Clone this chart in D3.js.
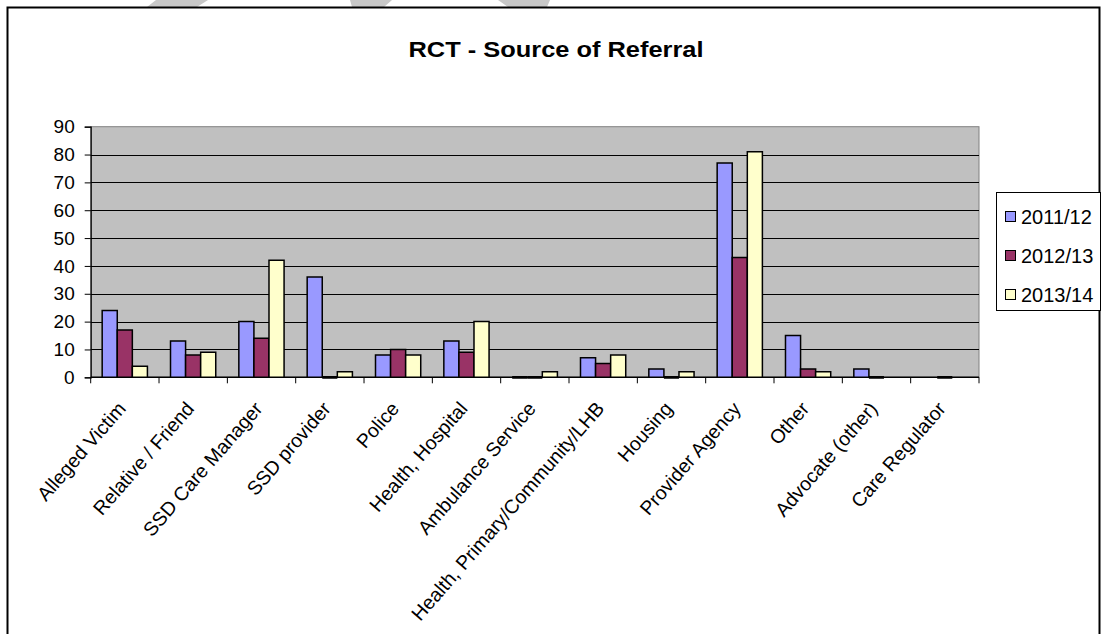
<!DOCTYPE html>
<html>
<head>
<meta charset="utf-8">
<script src="https://cdn.jsdelivr.net/npm/d3@7"></script>
<style>
  html, body { margin: 0; padding: 0; background: #ffffff; }
  svg { display: block; font-family: "Liberation Sans", Arial, sans-serif; }
</style>
</head>
<body>
<svg id="chart" width="1104" height="634"></svg>
<script>
// ---- data ----
const categories = [
  "Alleged Victim", "Relative / Friend", "SSD Care Manager", "SSD provider",
  "Police", "Health, Hospital", "Ambulance Service", "Health, Primary/Community/LHB",
  "Housing", "Provider Agency", "Other", "Advocate (other)", "Care Regulator"
];
const seriesNames = ["2011/12", "2012/13", "2013/14"];
const values2011 = [24, 13, 20, 36, 8, 13, 0, 7, 3, 77, 15, 3, null];
const values2012 = [17, 8, 14, 0, 10, 9, 0, 5, 0, 43, 3, 0, 0];
const values2013 = [4, 9, 42, 2, 8, 20, 2, 8, 2, 81, 2, null, null];
const seriesColors = ["#9999FF", "#993366", "#FFFFCC"];
const yTicks = [0, 10, 20, 30, 40, 50, 60, 70, 80, 90];
const titleText = "RCT - Source of Referral";

// ---- layout ----
const svg = d3.select("#chart");
const plot = { left: 90.7, right: 979, top: 126.7, bottom: 377.3 };
const allSeries = [values2011, values2012, values2013];

// watermark fragments above the chart frame
const wm = [
  [[156,0],[208,0],[197,7],[147,7]],
  [[350,0],[392,0],[384,7],[352,7]],
  [[498,0],[550,0],[547,7],[508,7]]
];
svg.selectAll("polygon.wm").data(wm).enter().append("polygon")
  .attr("class", "wm")
  .attr("points", d => d.map(p => p.join(",")).join(" "))
  .attr("fill", "#c8c8c8");

// chart frame
svg.append("rect")
  .attr("x", 7.5).attr("y", 7.5).attr("width", 1092).attr("height", 700)
  .attr("fill", "none").attr("stroke", "#000").attr("stroke-width", 2);

// title
svg.append("text")
  .attr("x", 556).attr("y", 57)
  .attr("text-anchor", "middle")
  .attr("font-size", 22).attr("font-weight", "bold")
  .attr("textLength", 295).attr("lengthAdjust", "spacingAndGlyphs")
  .text(titleText);

const x = d3.scaleBand().domain(categories).range([plot.left, plot.right]).padding(0);
const bw = x.bandwidth();
const xs = d3.scaleBand().domain(seriesNames).range([bw * 0.168, bw * 0.83]).padding(0);
const y = d3.scaleLinear().domain([0, 90]).range([plot.bottom, plot.top]);

// plot background
svg.append("rect")
  .attr("x", plot.left).attr("y", plot.top)
  .attr("width", plot.right - plot.left).attr("height", plot.bottom - plot.top)
  .attr("fill", "#C0C0C0").attr("stroke", "#808080").attr("stroke-width", 1);

// gridlines
svg.append("g").selectAll("line").data(yTicks.filter(t => t > 0 && t < 90)).enter().append("line")
  .attr("x1", plot.left).attr("x2", plot.right)
  .attr("y1", d => Math.round(y(d)) + 0.5).attr("y2", d => Math.round(y(d)) + 0.5)
  .attr("stroke", "#000").attr("stroke-width", 1);

// x axis line
svg.append("line")
  .attr("x1", plot.left).attr("x2", plot.right)
  .attr("y1", plot.bottom).attr("y2", plot.bottom)
  .attr("stroke", "#000").attr("stroke-width", 1.5);

// bars
const barData = [];
categories.forEach((c, i) => {
  seriesNames.forEach((s, j) => {
    const v = allSeries[j][i];
    if (v !== null && v !== undefined) barData.push({ c, s, v, j });
  });
});
svg.append("g").selectAll("path").data(barData).enter().append("path")
  .attr("d", d => {
    const x0 = x(d.c) + xs(d.s), x1 = x0 + xs.bandwidth();
    const y0 = y(0), y1 = y(d.v);
    return `M${x0},${y0}V${y1}H${x1}V${y0}Z`;
  })
  .attr("fill", d => seriesColors[d.j])
  .attr("stroke", "#000")
  .attr("stroke-width", d => d.v === 0 ? 2.8 : 1.5);

// y axis
const yAxis = d3.axisLeft(y).tickValues(yTicks).tickSize(6).tickPadding(10);
const gy = svg.append("g").attr("transform", `translate(${plot.left},0)`).call(yAxis);
gy.select(".domain").attr("stroke", "#000").attr("stroke-width", 1.2);
gy.selectAll(".tick line").attr("stroke", "#000");
gy.selectAll("text").attr("font-size", 19).attr("fill", "#000")
  .attr("font-family", "Liberation Sans, Arial, sans-serif");

// x ticks at category boundaries
const boundaries = categories.map(c => x(c)).concat([plot.right]);
svg.append("g").selectAll("line").data(boundaries).enter().append("line")
  .attr("x1", d => d).attr("x2", d => d)
  .attr("y1", plot.bottom).attr("y2", plot.bottom + 6)
  .attr("stroke", "#000").attr("stroke-width", 1);

svg.append("g").selectAll("text").data(categories).enter().append("text")
  .attr("transform", d => `translate(${x(d) + bw / 2 + 2},${plot.bottom + 32}) rotate(-49)`)
  .attr("text-anchor", "end")
  .attr("font-size", 19.5)
  .attr("fill", "#000")
  .text(d => d);

// legend
const lg = svg.append("g");
lg.append("rect").attr("x", 996.5).attr("y", 192.5).attr("width", 104).attr("height", 118)
  .attr("fill", "#fff").attr("stroke", "#000").attr("stroke-width", 1);
const rowY = d3.scalePoint().domain(seriesNames).range([217, 295]);
seriesNames.forEach((s, j) => {
  lg.append("rect").attr("x", 1005.5).attr("y", rowY(s) - 5.5).attr("width", 10).attr("height", 10)
    .attr("fill", seriesColors[j]).attr("stroke", "#000").attr("stroke-width", 1);
  lg.append("text").attr("x", 1021).attr("y", rowY(s)).attr("dy", "0.35em")
    .attr("font-size", 20).attr("fill", "#000").text(s);
});
</script>
</body>
</html>
